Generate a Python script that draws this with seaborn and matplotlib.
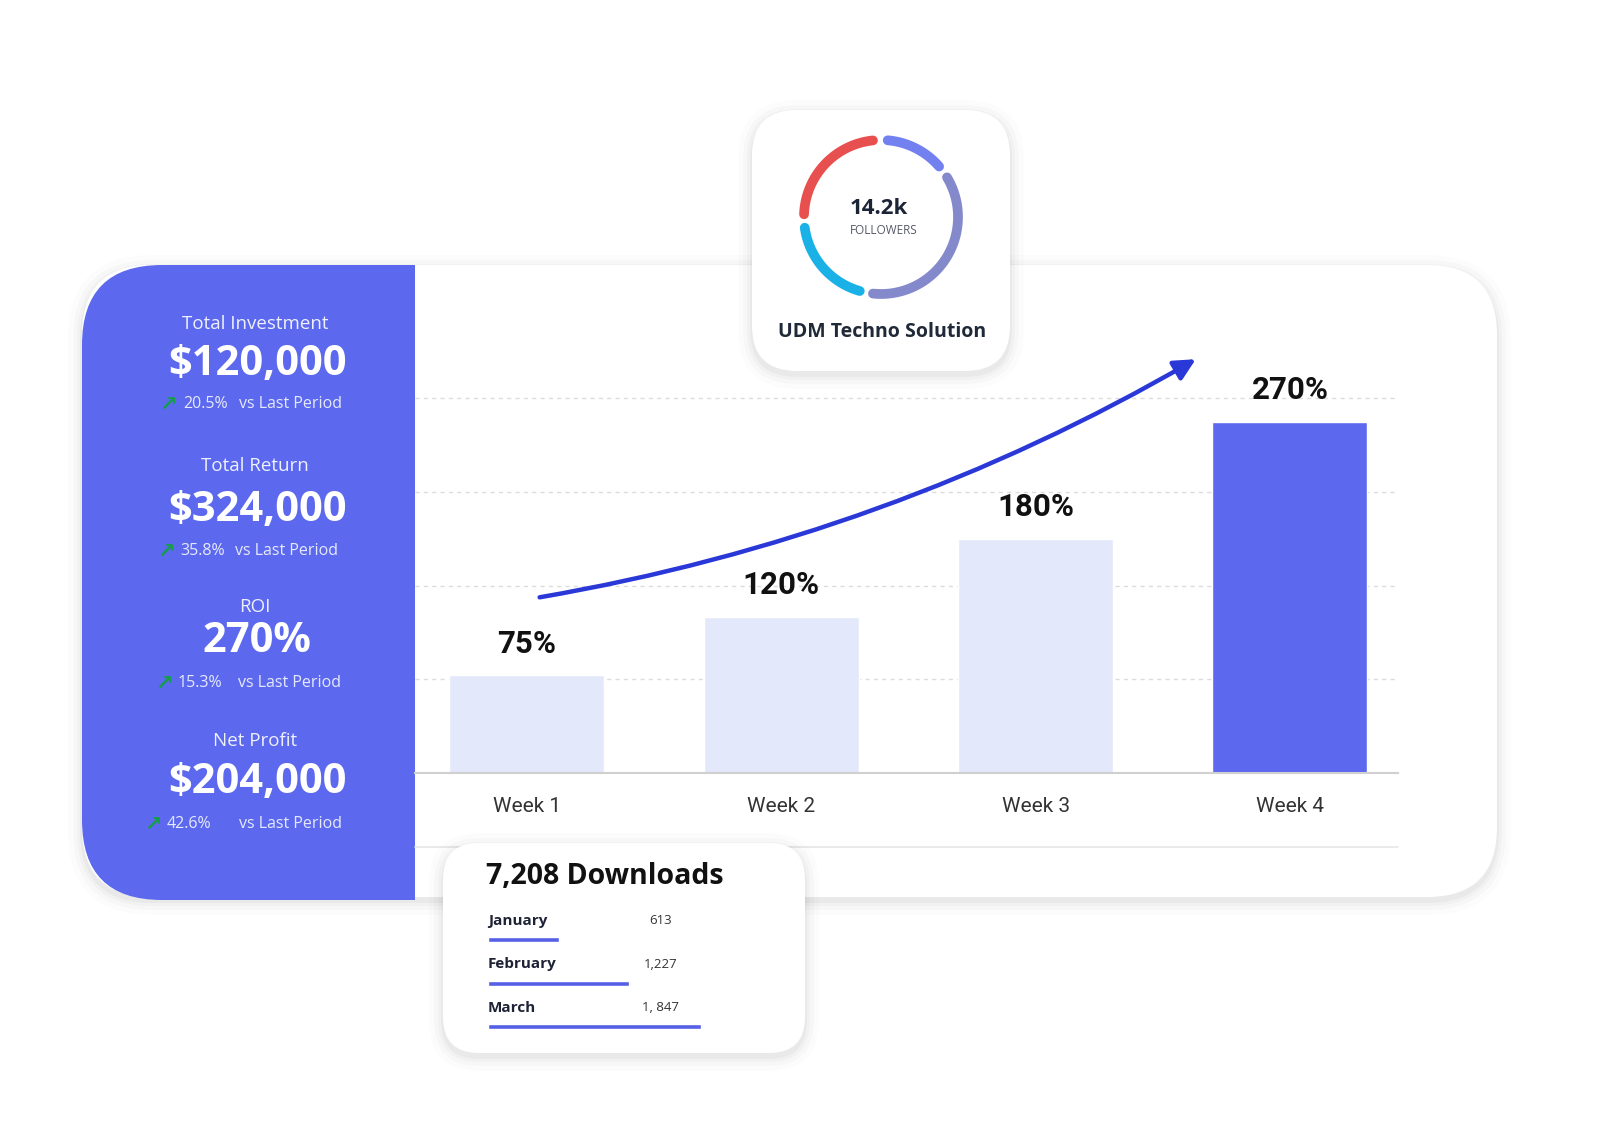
import numpy as np
import pandas as pd
import seaborn as sns
import matplotlib.pyplot as plt
from matplotlib.patches import FancyBboxPatch, Rectangle

# data
weeks = ["Week 1", "Week 2", "Week 3", "Week 4"]
roi_pct = [75, 120, 180, 270]
months = ["January", "February", "March"]
downloads = [613, 1227, 1847]
download_labels = ["613", "1,227", "1, 847"]
follower_parts = [44, 127, 66, 82]   # arc sizes (deg) of the donut ring
follower_colors = ["#7380f0", "#8489cc", "#19b1e6", "#e8504f"]
kpi_titles = ["Total Investment", "Total Return", "ROI", "Net Profit"]
kpi_values = ["$120,000", "$324,000", "270%", "$204,000"]
kpi_change = ["20.5%", "35.8%", "15.3%", "42.6%"]

sns.set_theme(style="white")
plt.rcParams['font.family'] = ['Open Sans', 'DejaVu Sans']
NARROW = ['Roboto', 'DejaVu Sans']

BLUE = "#5c69ee"
LIGHT = "#e3e8fb"
W, H = 1600, 1146

fig = plt.figure(figsize=(16, 11.46), dpi=100)
fig.patch.set_facecolor("white")

def rect(x, y, w, h):
    return [x / W, 1 - (y + h) / H, w / W, h / H]

bg = fig.add_axes([0, 0, 1, 1], zorder=0)
bg.set_xlim(0, W)
bg.set_ylim(H, 0)
bg.axis("off")

def card(x, y, w, h, r, fc="white", z=1):
    for p, a in [(14, 0.012), (9, 0.018), (5, 0.025), (2, 0.03)]:
        bg.add_patch(FancyBboxPatch((x, y + 4), w, h, boxstyle=f"round,pad={p},rounding_size={r + p}",
                                    fc="black", ec="none", alpha=a, zorder=z))
    bg.add_patch(FancyBboxPatch((x, y), w, h, boxstyle=f"round,pad=0,rounding_size={r}",
                                fc=fc, ec="none", zorder=z + 0.1))

# main card + blue KPI panel
card(82, 265, 1415, 632, 70)
bg.add_patch(FancyBboxPatch((82, 265), 333, 635, boxstyle="round,pad=0,rounding_size=80",
                            fc=BLUE, ec="none", zorder=2))
bg.add_patch(Rectangle((330, 265), 85, 635, fc=BLUE, ec="none", zorder=2))
bg.plot([415, 1398], [847, 847], color="#e6e6e6", lw=1.2, zorder=2)

# KPI texts
title_y = [324, 466, 607, 741]
value_y = [364, 510, 642, 782]
change_y = [404, 551, 683, 824]
arrow_x = [168, 166, 164, 153]
pct_x = [183, 180, 178, 167]
vs_x = [239, 235, 238, 239]
for i in range(4):
    bg.text(255, title_y[i], kpi_titles[i], color="#eef0fd", fontsize=13.5, ha="center", va="center", zorder=3)
    bg.text(257, value_y[i], kpi_values[i], color="white", fontsize=30, fontweight="bold",
            ha="center", va="center", zorder=3)
    bg.text(arrow_x[i], change_y[i] + 1, "\u2197", color="#169c4c", fontsize=15, fontweight="bold",
            family=["DejaVu Sans"], ha="center", va="center", zorder=3)
    bg.text(pct_x[i], change_y[i], kpi_change[i], color="#e6e9fc", fontsize=11.5, ha="left", va="center", zorder=3)
    bg.text(vs_x[i], change_y[i], "vs Last Period", color="#e6e9fc", fontsize=11.5, ha="left", va="center", zorder=3)

# bar chart
ax = fig.add_axes(rect(415, 380, 983, 393), zorder=3)
ax.patch.set_alpha(0)
df = pd.DataFrame({"week": weeks, "roi": roi_pct})
sns.barplot(data=df, x="week", y="roi", hue="week", palette=[LIGHT, LIGHT, LIGHT, BLUE],
            width=0.61, saturation=1, legend=False, ax=ax, zorder=2)
ax.set_xlim(-0.44, 3.425)
ax.set_ylim(0, 302)
ax.set_yticks(np.arange(72, 300, 72))
ax.yaxis.grid(True, color="#dcdcdc", linestyle=(0, (3, 3)), lw=1)
ax.set_axisbelow(True)
ax.tick_params(axis="y", left=False, labelleft=False)
ax.tick_params(axis="x", bottom=False, pad=11, labelsize=15, labelcolor="#333333")
for lab in ax.get_xticklabels():
    lab.set_family(NARROW)
ax.set_xlabel("")
ax.set_ylabel("")
for s in ["top", "right", "left"]:
    ax.spines[s].set_visible(False)
ax.spines["bottom"].set_color("#d0d0d0")
ax.spines["bottom"].set_linewidth(1.5)
for c in ax.containers:
    ax.bar_label(c, labels=[f"{v:.0f}%" for v in c.datavalues], padding=12, fontsize=22.5,
                 fontweight="bold", family=NARROW, color="#111111")
ax.annotate("", xy=(2.63, 318), xytext=(0.05, 135), annotation_clip=False,
            arrowprops=dict(arrowstyle="-|>", color="#2a38d8", lw=3.2, mutation_scale=32,
                            connectionstyle="arc3,rad=0.09", shrinkA=0, shrinkB=0))

# followers card with donut
card(752, 110, 258, 261, 45, z=4)
bg.text(879, 208, "14.2k", fontsize=16, fontweight="bold", color="#1c2437", ha="center", va="center", zorder=6)
bg.text(884, 231, "FOLLOWERS", fontsize=8.5, color="#555a66", ha="center", va="center", zorder=6)
bg.text(882, 332, "UDM Techno Solution", fontsize=14, fontweight="bold", color="#1f2937",
        ha="center", va="center", zorder=6)
pax = fig.add_axes(rect(781, 117, 200, 200), projection="polar", zorder=6)
pax.set_theta_zero_location("N")
pax.set_theta_direction(-1)
pax.set_ylim(0, 1)
pax.axis("off")
start = 5
for part, col in zip(follower_parts, follower_colors):
    th = np.deg2rad(np.linspace(start, start + part, 60))
    pax.plot(th, np.full_like(th, 0.77), color=col, lw=7, solid_capstyle="round")
    start += part + 10

# downloads card
card(443, 843, 362, 210, 36, z=4)
bg.text(486, 876, "7,208 Downloads", fontsize=20.5, fontweight="bold", color="#111111",
        ha="left", va="center", zorder=6)
dax = fig.add_axes(rect(488, 918, 300, 130.5), zorder=6)
dax.patch.set_alpha(0)
sns.barplot(x=downloads, y=months, orient="h", color="#5560e6", width=0.12, saturation=1, ax=dax)
dax.set_xlim(0, 300 / 0.1153)
dax.set_ylim(2.5, -0.5)
dax.axis("off")
for i, m in enumerate(months):
    dax.text(0, i - 0.44, m, fontsize=11, fontweight="bold", color="#1e2235", ha="left", va="center")
    dax.text(1500, i - 0.44, download_labels[i], fontsize=9.5, color="#333333", ha="center", va="center")

fig.savefig("out.png", dpi=100, facecolor="white")
